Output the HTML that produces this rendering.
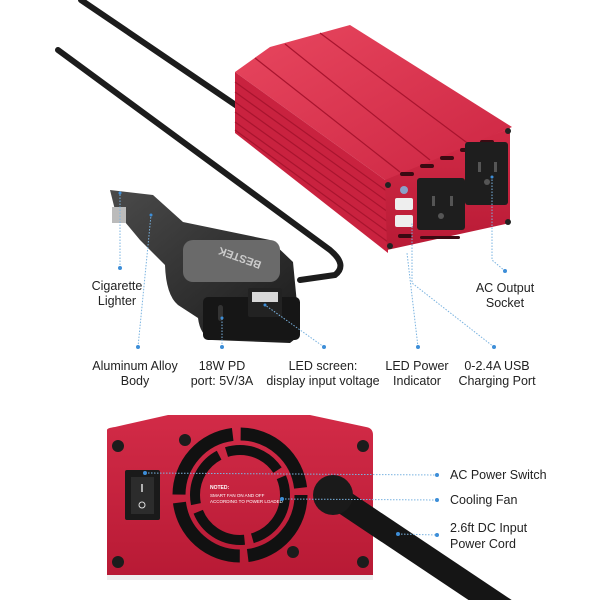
<!DOCTYPE html>
<html><head><meta charset="utf-8"><style>
html,body{margin:0;padding:0;background:#fff;width:600px;height:600px;overflow:hidden}
svg{display:block}
text{font-family:"Liberation Sans",sans-serif;font-size:12.5px;fill:#222}
</style></head><body>
<svg width="600" height="600" viewBox="0 0 600 600" xmlns="http://www.w3.org/2000/svg">
<defs>
<linearGradient id="red1" x1="0" y1="0" x2="1" y2="1"><stop offset="0" stop-color="#e8475f"/><stop offset="1" stop-color="#cc2542"/></linearGradient>
<linearGradient id="red2" x1="0" y1="0" x2="0" y2="1"><stop offset="0" stop-color="#d22b47"/><stop offset="1" stop-color="#b81a35"/></linearGradient>
<linearGradient id="blk" x1="0" y1="0" x2="1" y2="1"><stop offset="0" stop-color="#4a4a4a"/><stop offset="1" stop-color="#1a1a1a"/></linearGradient>
</defs>
<!-- cables -->
<path d="M81,0 L240,108" stroke="#1c1c1c" stroke-width="6" fill="none" stroke-linecap="round"/>
<path d="M58,50 L330,250 Q348,265 335,275 L300,280" stroke="#1c1c1c" stroke-width="6" fill="none" stroke-linecap="round"/>
<!-- inverter -->
<polygon points="235,72 270,47 350,25 512,127 388,182" fill="url(#red1)"/>
<polygon points="235,72 388,182 388,253 235,133" fill="#c9223f"/>
<g stroke="#a8142e" stroke-width="1.2">
<line x1="235" y1="82" x2="388" y2="192"/><line x1="235" y1="92" x2="388" y2="202"/><line x1="235" y1="102" x2="388" y2="212"/><line x1="235" y1="112" x2="388" y2="222"/><line x1="235" y1="122" x2="388" y2="232"/><line x1="235" y1="130" x2="388" y2="242"/>
<line x1="255" y1="58" x2="400" y2="172"/><line x1="285" y1="44" x2="430" y2="160"/><line x1="320" y1="33" x2="470" y2="145"/>
</g>
<polygon points="385,180 510,128 510,223 387,250" fill="url(#red2)"/>
<g fill="#3a0a12">
<rect x="400" y="172" width="14" height="4" rx="2"/><rect x="420" y="164" width="14" height="4" rx="2"/><rect x="440" y="156" width="14" height="4" rx="2"/><rect x="460" y="148" width="14" height="4" rx="2"/><rect x="480" y="140" width="14" height="4" rx="2"/>
<rect x="398" y="234" width="14" height="4" rx="2"/><rect x="420" y="236" width="40" height="3" rx="1.5"/>
</g>
<rect x="417" y="178" width="48" height="52" rx="3" fill="#1e1e1e"/>
<rect x="465" y="142" width="43" height="63" rx="3" fill="#1e1e1e"/>
<g fill="#555"><rect x="432" y="196" width="3" height="10"/><rect x="450" y="196" width="3" height="10"/><circle cx="441" cy="216" r="3"/>
<rect x="478" y="162" width="3" height="10"/><rect x="494" y="162" width="3" height="10"/><circle cx="487" cy="182" r="3"/></g>
<rect x="395" y="198" width="18" height="12" rx="2" fill="#eee"/><rect x="395" y="215" width="18" height="12" rx="2" fill="#eee"/>
<circle cx="404" cy="190" r="4" fill="#8aa0c8"/>
<g fill="#222"><circle cx="388" cy="185" r="3"/><circle cx="390" cy="246" r="3"/><circle cx="508" cy="131" r="3"/><circle cx="508" cy="222" r="3"/></g>
<!-- car charger -->
<path d="M110,190 L153,195 L183,222 L270,240 L293,262 L300,335 L290,343 L212,340 Q200,335 198,318 L178,305 Q166,295 165,265 L140,240 L115,210 Z" fill="url(#blk)"/>
<rect x="183" y="240" width="97" height="42" rx="10" fill="#6a6a6a"/>
<text x="0" y="0" transform="translate(262,262) rotate(200)" style="font-size:11px;fill:#ccc;font-weight:bold">BESTEK</text>
<rect x="203" y="297" width="97" height="43" rx="5" fill="#161616"/>
<rect x="248" y="288" width="34" height="29" rx="2" fill="#222"/>
<rect x="252" y="292" width="26" height="10" fill="#d8d8d8"/>
<rect x="218" y="305" width="5" height="16" rx="2.5" fill="#333"/>
<rect x="112" y="207" width="14" height="16" fill="#bbb"/>
<!-- connectors top -->
<g stroke="#7ab3e0" stroke-width="1" stroke-dasharray="1.5,1.5" fill="none">
<line x1="120" y1="268" x2="120" y2="193"/><line x1="138" y1="347" x2="151" y2="215"/><line x1="222" y1="347" x2="222" y2="318"/><line x1="324" y1="347" x2="265" y2="305"/><line x1="418" y1="347" x2="407" y2="253"/><polyline points="494,347 412,283 412,222"/><polyline points="505,271 492,260 492,177"/>
</g>
<g fill="#3d8ed8"><circle cx="120" cy="268" r="2"/><circle cx="138" cy="347" r="2"/><circle cx="222" cy="347" r="2"/><circle cx="324" cy="347" r="2"/><circle cx="418" cy="347" r="2"/><circle cx="494" cy="347" r="2"/><circle cx="505" cy="271" r="2"/><circle cx="120" cy="193" r="1.5"/><circle cx="151" cy="215" r="1.5"/><circle cx="222" cy="318" r="1.5"/><circle cx="265" cy="305" r="1.5"/><circle cx="492" cy="177" r="1.5"/></g>
<g text-anchor="middle">
<text x="117" y="290">Cigarette</text><text x="117" y="305">Lighter</text>
<text x="505" y="292">AC Output</text><text x="505" y="307">Socket</text>
<text x="135" y="370">Aluminum Alloy</text><text x="135" y="385">Body</text>
<text x="222" y="370">18W PD</text><text x="222" y="385">port: 5V/3A</text>
<text x="323" y="370">LED screen:</text><text x="323" y="385">display input voltage</text>
<text x="417" y="370">LED Power</text><text x="417" y="385">Indicator</text>
<text x="497" y="370">0-2.4A USB</text><text x="497" y="385">Charging Port</text>
</g>
<!-- bottom inverter -->
<rect x="107" y="570" width="266" height="10" fill="#eee"/>
<path d="M107,430 Q107,428 115,427 L168,415 L310,415 L366,427 Q373,428 373,435 L373,575 L107,575 Z" fill="url(#red2)"/>
<g fill="#1c1c1c"><circle cx="118" cy="446" r="6"/><circle cx="363" cy="446" r="6"/><circle cx="118" cy="562" r="6"/><circle cx="363" cy="562" r="6"/><circle cx="185" cy="440" r="6"/><circle cx="293" cy="552" r="6"/></g>
<rect x="125" y="470" width="35" height="50" rx="2" fill="#1a1a1a"/><rect x="131" y="477" width="23" height="37" fill="#2c2c2c"/>
<line x1="142" y1="484" x2="142" y2="492" stroke="#ddd" stroke-width="1.5"/><circle cx="142" cy="505" r="3" fill="none" stroke="#ddd"/>
<circle cx="240" cy="495" r="61" fill="none" stroke="#111" stroke-width="13" stroke-dasharray="88,8"/>
<circle cx="240" cy="495" r="45" fill="none" stroke="#111" stroke-width="10" stroke-dasharray="58,8"/>
<text x="210" y="489" style="font-size:5px;fill:#fff;font-weight:bold">NOTED:</text>
<text x="210" y="497" style="font-size:4.5px;fill:#fff">SMART FAN ON AND OFF</text>
<text x="210" y="503" style="font-size:4.5px;fill:#fff">ACCORDING TO POWER LOADED</text>
<path d="M333,495 L520,620" stroke="#151515" stroke-width="24" fill="none"/>
<circle cx="333" cy="495" r="20" fill="#1a1a1a"/>
<g stroke="#7ab3e0" stroke-width="1" stroke-dasharray="1.5,1.5"><line x1="145" y1="473" x2="437" y2="475"/><line x1="282" y1="499" x2="437" y2="500"/><line x1="398" y1="534" x2="437" y2="535"/></g>
<g fill="#3d8ed8"><circle cx="145" cy="473" r="2"/><circle cx="282" cy="499" r="2"/><circle cx="398" cy="534" r="2"/><circle cx="437" cy="475" r="2"/><circle cx="437" cy="500" r="2"/><circle cx="437" cy="535" r="2"/></g>
<text x="450" y="479">AC Power Switch</text>
<text x="450" y="504">Cooling Fan</text>
<text x="450" y="532">2.6ft DC Input</text>
<text x="450" y="548">Power Cord</text>
</svg>
</body></html>
